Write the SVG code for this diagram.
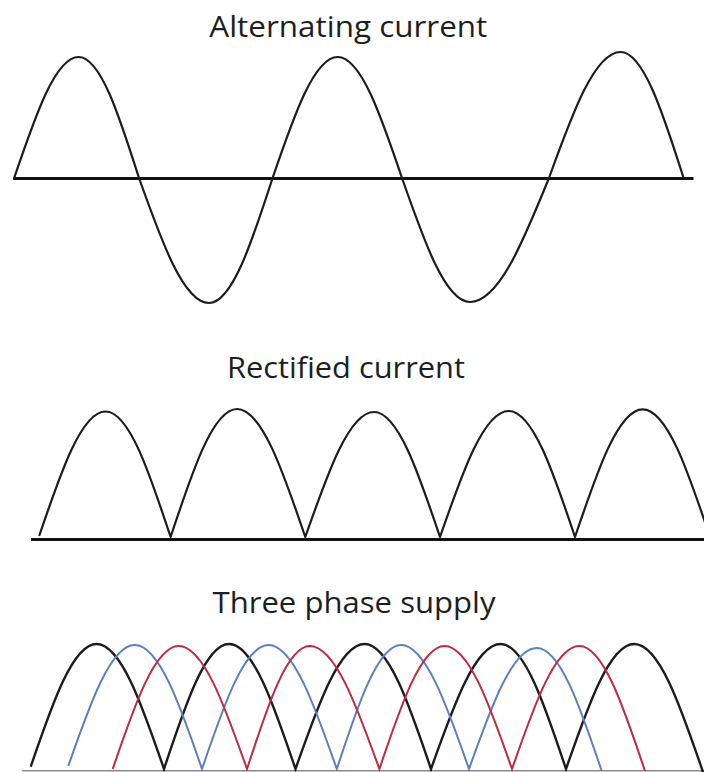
<svg xmlns="http://www.w3.org/2000/svg" width="704" height="772" viewBox="0 0 704 772">
<style>
.t{font-family:"Open Sans","Liberation Sans",sans-serif;font-size:29.5px;fill:#1e1e1e;text-anchor:middle}
.w{fill:none;stroke:#1c1c1c;stroke-width:2.2;stroke-linejoin:round;stroke-linecap:round}
.ax{stroke:#111;stroke-width:3.2}
.blk{fill:none;stroke:#1c1c1c;stroke-width:2.4}
.blu{fill:none;stroke:#5b80c0;stroke-width:2}
.red{fill:none;stroke:#bf2a42;stroke-width:2}
</style>
<rect width="704" height="772" fill="#ffffff"/>
<g id="alternating">
<text class="t" x="348.3" y="37.3" textLength="278" lengthAdjust="spacingAndGlyphs">Alternating current</text>
<line class="ax" x1="13" y1="178.5" x2="693.5" y2="178.5"/>
<path class="w" d="M14.5,177 C35.4,115.5 55.4,57 78.6,57 C100.5,57 119.3,116 139,178 C161.8,242 183.7,303 209,303 C232,303 251.9,242 272.6,178 C293.8,116 314.1,57 337.7,57 C361,57 381,116 402,178 C424.2,241.5 445.4,302 470,302 C498.6,302 523.2,241.5 549,178 C572.3,113.5 594.7,52 620.6,52 C643.3,52 662.9,113 683.3,177"/>
</g>
<g id="rectified">
<text class="t" x="345.9" y="378.3" textLength="238" lengthAdjust="spacingAndGlyphs">Rectified current</text>
<line class="ax" x1="31" y1="539.5" x2="704" y2="539.5"/>
<path class="w" d="M39.5,535 C61,471.7 81.6,411.5 105.5,411.5 C129.1,411.5 149.4,472.7 170.6,537 C192.3,471.4 213,409 237,409 C261.7,409 283,471.4 305.3,537 C327.7,473 349.1,412 374,412 C397.9,412 418.5,473 440,537 C462.4,472.5 483.8,411 508.7,411 C532.7,411 553.4,472.5 575,537 C597.1,471.6 618.2,409.3 642.7,409.3 C667.1,409.3 688.1,471.6 710,537"/>
</g>
<g id="three-phase">
<text class="t" x="354" y="613.3" textLength="283" lengthAdjust="spacingAndGlyphs">Three phase supply</text>
<line x1="22" y1="770.8" x2="704" y2="770.8" stroke="#8a8a8a" stroke-width="1.5"/>
<path id="phase-black" class="blk" d="M30.7,766.7 C52.2,703.9 72.7,644 96.5,644 C120.9,644 142,705 164,769 C185.2,705 205.5,644 229,644 C253.1,644 273.8,705 295.5,769 C318,705 339.6,644 364.6,644 C388.6,644 409.4,705 431,769 C453.7,705 475.5,644 500.7,644 C524.3,644 544.7,705 566,769 C588.3,705 609.6,644 634.3,644 C659.2,644 680.6,706.5 703,772"/>
<path id="phase-blue" class="blu" d="M68.3,766 C89.9,704 110.7,645 134.7,645 C159.1,645 180.1,705.5 202,769 C223.7,705.5 244.4,645 268.5,645 C293.2,645 314.5,705.5 336.8,769 C357.7,705.5 377.8,645 401,645 C425.6,645 446.8,705.5 469,769 C491.1,707 512.2,648 536.7,648 C560.2,648 580.5,708 601.7,771"/>
<path id="phase-red" class="red" d="M112.7,769 C134.2,706 154.8,646 178.7,646 C203.4,646 224.7,706 247,769 C267.5,706 287.1,646 309.8,646 C335,646 356.7,706 379.4,769 C400.6,706 421,646 444.5,646 C468.9,646 490,706 512,769 C533.9,706 554.9,646 579.3,646 C603.1,646 623.6,707 645,771"/>
</g>
</svg>
